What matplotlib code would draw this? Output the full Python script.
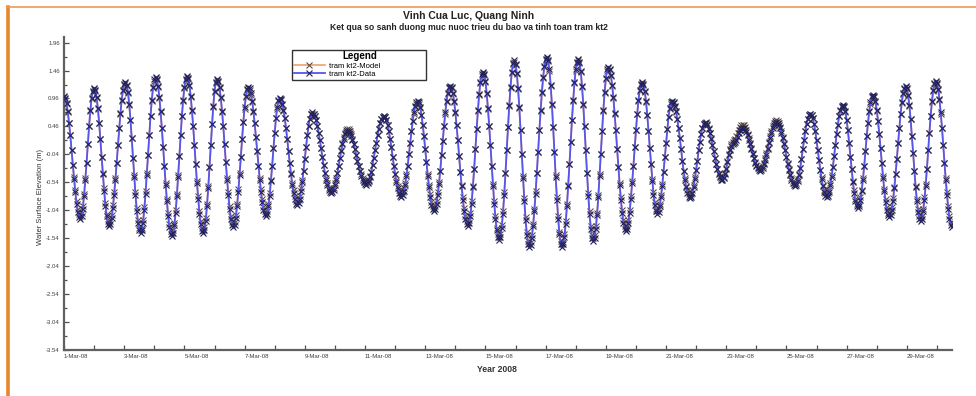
import datetime as dt
import matplotlib
matplotlib.use("Agg")
import matplotlib.pyplot as plt
import matplotlib.dates as mdates
from matplotlib.lines import Line2D
from matplotlib.ticker import FixedLocator, FormatStrFormatter, FuncFormatter

plt.rcParams['font.family'] = ['Liberation Sans', 'DejaVu Sans']

# ---- chu thich / nhan ----
title_main = "Vinh Cua Luc, Quang Ninh"
title_sub = "Ket qua so sanh duong muc nuoc trieu du bao va tinh toan tram kt2"
y_label = "Water Surface Elevation (m)"
x_label = "Year 2008"
legend_title = "Legend"
series_names = ["tram kt2-Model", "tram kt2-Data"]

start_time = dt.datetime(2008, 3, 1, 0, 0)   # gio dau tien, buoc 1 gio
span_days = 29.5
y_ticks = [1.96, 1.46, 0.96, 0.46, -0.04, -0.54, -1.04, -1.54, -2.04, -2.54, -3.04, -3.54]
y_top = 2.06

# ---- muc nuoc theo gio (m), doc tu hinh ----
model_level = [
    0.98,
    0.95, 0.86, 0.71, 0.53, 0.30, 0.04, -0.23, -0.45, -0.67, -0.87, -1.02, -1.11, -1.14,
    -1.09, -0.96, -0.74, -0.47, -0.19, 0.15, 0.46, 0.73, 0.95, 1.08, 1.13,
    1.09, 0.96, 0.77, 0.53, 0.23, -0.09, -0.37, -0.65, -0.91, -1.10, -1.23, -1.27,
    -1.23, -1.12, -0.95, -0.71, -0.46, -0.19, 0.13, 0.43, 0.68, 0.92, 1.09, 1.20, 1.24,
    1.19, 1.06, 0.84, 0.58, 0.25, -0.10, -0.41, -0.72, -1.00, -1.22, -1.35, -1.40,
    -1.35, -1.21, -0.99, -0.70, -0.38, -0.05, 0.31, 0.65, 0.92, 1.14, 1.28, 1.33,
    1.29, 1.17, 0.97, 0.71, 0.43, 0.10, -0.25, -0.55, -0.83, -1.09, -1.29, -1.41, -1.45,
    -1.40, -1.26, -1.03, -0.74, -0.41, -0.07, 0.30, 0.65, 0.92, 1.15, 1.29, 1.34,
    1.30, 1.18, 0.99, 0.73, 0.46, 0.12, -0.21, -0.52, -0.79, -1.05, -1.24, -1.36, -1.40,
    -1.34, -1.18, -0.92, -0.61, -0.27, 0.13, 0.50, 0.81, 1.07, 1.23, 1.29,
    1.25, 1.14, 0.96, 0.72, 0.46, 0.14, -0.17, -0.46, -0.72, -0.96, -1.14, -1.25, -1.29,
    -1.25, -1.12, -0.92, -0.66, -0.38, -0.09, 0.24, 0.54, 0.78, 0.98, 1.11, 1.15,
    1.12, 1.03, 0.90, 0.72, 0.52, 0.27, 0.02, -0.24, -0.46, -0.66, -0.84, -0.98, -1.06, -1.09,
    -1.05, -0.92, -0.73, -0.49, -0.24, 0.07, 0.35, 0.61, 0.78, 0.91, 0.95,
    0.93, 0.85, 0.74, 0.61, 0.43, 0.23, 0.02, -0.20, -0.37, -0.55, -0.68, -0.79, -0.87, -0.89,
    -0.86, -0.78, -0.65, -0.50, -0.33, -0.12, 0.10, 0.30, 0.47, 0.60, 0.68, 0.69,
    0.69, 0.65, 0.57, 0.47, 0.35, 0.21, 0.07, -0.09, -0.23, -0.37, -0.46, -0.56, -0.64, -0.66, -0.68,
    -0.66, -0.64, -0.56, -0.46, -0.37, -0.24, -0.10, 0.04, 0.16, 0.27, 0.35, 0.40, 0.42,
    0.41, 0.38, 0.32, 0.24, 0.15, 0.05, -0.05, -0.15, -0.25, -0.34, -0.40, -0.46, -0.51, -0.54, -0.55,
    -0.53, -0.49, -0.42, -0.35, -0.23, -0.10, 0.04, 0.17, 0.30, 0.42, 0.52, 0.59, 0.63, 0.65,
    0.63, 0.58, 0.49, 0.38, 0.24, 0.09, -0.08, -0.24, -0.39, -0.50, -0.61, -0.68, -0.73, -0.75,
    -0.72, -0.65, -0.56, -0.40, -0.25, -0.04, 0.16, 0.37, 0.55, 0.69, 0.80, 0.87, 0.90,
    0.87, 0.79, 0.67, 0.49, 0.29, 0.05, -0.18, -0.39, -0.59, -0.75, -0.89, -0.97, -1.00,
    -0.97, -0.87, -0.72, -0.54, -0.33, -0.06, 0.20, 0.47, 0.69, 0.89, 1.04, 1.14, 1.17,
    1.14, 1.04, 0.90, 0.70, 0.48, 0.22, -0.07, -0.35, -0.58, -0.80, -1.00, -1.15, -1.24, -1.27,
    -1.22, -1.09, -0.87, -0.60, -0.30, 0.06, 0.42, 0.73, 1.02, 1.24, 1.37, 1.42,
    1.38, 1.25, 1.04, 0.77, 0.47, 0.12, -0.25, -0.57, -0.87, -1.14, -1.35, -1.47, -1.52,
    -1.47, -1.30, -1.05, -0.72, -0.38, 0.04, 0.45, 0.82, 1.15, 1.41, 1.57, 1.62,
    1.56, 1.40, 1.13, 0.79, 0.40, -0.03, -0.43, -0.82, -1.16, -1.43, -1.59, -1.65,
    -1.61, -1.48, -1.28, -1.01, -0.69, -0.38, 0.01, 0.39, 0.73, 1.05, 1.32, 1.52, 1.65, 1.69,
    1.63, 1.46, 1.19, 0.84, 0.45, 0.01, -0.41, -0.80, -1.15, -1.42, -1.59, -1.65,
    -1.60, -1.46, -1.23, -0.92, -0.58, -0.22, 0.19, 0.58, 0.92, 1.23, 1.46, 1.60, 1.65,
    1.59, 1.43, 1.17, 0.84, 0.46, 0.04, -0.38, -0.73, -1.06, -1.32, -1.49, -1.54,
    -1.49, -1.33, -1.08, -0.76, -0.40, -0.03, 0.37, 0.73, 1.05, 1.30, 1.46, 1.51,
    1.47, 1.36, 1.19, 0.96, 0.68, 0.39, 0.06, -0.27, -0.55, -0.81, -1.04, -1.21, -1.32, -1.36,
    -1.32, -1.21, -1.03, -0.78, -0.52, -0.24, 0.09, 0.40, 0.68, 0.91, 1.09, 1.20, 1.24,
    1.20, 1.08, 0.90, 0.67, 0.38, 0.08, -0.22, -0.48, -0.71, -0.89, -1.01, -1.05,
    -1.02, -0.92, -0.76, -0.57, -0.35, -0.09, 0.17, 0.42, 0.63, 0.77, 0.87, 0.90,
    0.88, 0.81, 0.71, 0.59, 0.43, 0.25, 0.05, -0.15, -0.33, -0.46, -0.60, -0.68, -0.75, -0.77,
    -0.75, -0.68, -0.59, -0.45, -0.32, -0.15, 0.03, 0.19, 0.33, 0.44, 0.51, 0.53,
    0.54, 0.50, 0.44, 0.35, 0.25, 0.13, 0.02, -0.10, -0.21, -0.31, -0.38, -0.43, -0.47, -0.48,
    -0.45, -0.38, -0.28, -0.16, -0.04, 0.06, 0.14, 0.19, 0.22, 0.24, 0.28, 0.34, 0.40, 0.45, 0.48, 0.49,
    0.48, 0.45, 0.40, 0.33, 0.25, 0.16, 0.07, -0.02, -0.10, -0.17, -0.23, -0.27, -0.29, -0.30,
    -0.29, -0.25, -0.19, -0.11, -0.02, 0.08, 0.19, 0.29, 0.38, 0.46, 0.52, 0.56, 0.57,
    0.56, 0.52, 0.45, 0.37, 0.27, 0.16, 0.04, -0.08, -0.20, -0.31, -0.39, -0.46, -0.52, -0.56, -0.57,
    -0.55, -0.48, -0.40, -0.28, -0.12, 0.05, 0.21, 0.37, 0.50, 0.60, 0.67, 0.69,
    0.67, 0.61, 0.50, 0.37, 0.21, 0.03, -0.14, -0.32, -0.45, -0.58, -0.67, -0.73, -0.75,
    -0.73, -0.68, -0.56, -0.41, -0.27, -0.07, 0.12, 0.32, 0.49, 0.64, 0.74, 0.81, 0.83,
    0.80, 0.71, 0.58, 0.39, 0.16, -0.08, -0.31, -0.51, -0.68, -0.83, -0.92, -0.95,
    -0.92, -0.81, -0.67, -0.46, -0.25, 0.02, 0.28, 0.52, 0.71, 0.87, 0.98, 1.01,
    0.98, 0.89, 0.74, 0.56, 0.33, 0.07, -0.20, -0.43, -0.66, -0.84, -0.99, -1.08, -1.11,
    -1.07, -0.98, -0.82, -0.62, -0.40, -0.13, 0.16, 0.43, 0.68, 0.88, 1.04, 1.13, 1.17,
    1.13, 1.01, 0.82, 0.59, 0.29, -0.02, -0.33, -0.60, -0.83, -1.02, -1.14, -1.18,
    -1.14, -1.01, -0.81, -0.57, -0.30, 0.03, 0.35, 0.65, 0.89, 1.09, 1.22, 1.26,
    1.22, 1.11, 0.93, 0.69, 0.44, 0.13, -0.19, -0.47, -0.72, -0.96, -1.14, -1.25, -1.29,
]

data_level = [
    1.00,
    0.97, 0.88, 0.73, 0.53, 0.30, 0.04, -0.23, -0.48, -0.72, -0.92, -1.07, -1.16, -1.19,
    -1.14, -1.01, -0.79, -0.50, -0.19, 0.15, 0.46, 0.75, 0.97, 1.10, 1.15,
    1.11, 0.98, 0.79, 0.53, 0.23, -0.09, -0.40, -0.70, -0.96, -1.15, -1.28, -1.32,
    -1.28, -1.17, -1.00, -0.76, -0.49, -0.19, 0.13, 0.43, 0.70, 0.94, 1.11, 1.22, 1.26,
    1.21, 1.08, 0.86, 0.58, 0.25, -0.10, -0.44, -0.77, -1.05, -1.27, -1.40, -1.45,
    -1.40, -1.26, -1.04, -0.75, -0.41, -0.05, 0.31, 0.65, 0.94, 1.16, 1.30, 1.35,
    1.31, 1.19, 0.99, 0.73, 0.43, 0.10, -0.25, -0.58, -0.88, -1.14, -1.34, -1.46, -1.50,
    -1.45, -1.31, -1.08, -0.79, -0.44, -0.07, 0.30, 0.65, 0.94, 1.17, 1.31, 1.36,
    1.32, 1.20, 1.01, 0.75, 0.46, 0.12, -0.21, -0.55, -0.84, -1.10, -1.29, -1.41, -1.45,
    -1.39, -1.23, -0.97, -0.64, -0.27, 0.13, 0.50, 0.83, 1.09, 1.25, 1.31,
    1.27, 1.16, 0.98, 0.74, 0.46, 0.14, -0.17, -0.49, -0.77, -1.01, -1.19, -1.30, -1.34,
    -1.30, -1.17, -0.97, -0.71, -0.41, -0.09, 0.24, 0.54, 0.80, 1.00, 1.13, 1.17,
    1.14, 1.05, 0.92, 0.74, 0.52, 0.27, 0.02, -0.24, -0.49, -0.71, -0.89, -1.03, -1.11, -1.14,
    -1.10, -0.97, -0.78, -0.52, -0.24, 0.07, 0.35, 0.61, 0.80, 0.93, 0.97,
    0.95, 0.87, 0.76, 0.61, 0.43, 0.23, 0.02, -0.20, -0.40, -0.58, -0.73, -0.84, -0.92, -0.94,
    -0.91, -0.83, -0.70, -0.53, -0.33, -0.12, 0.10, 0.30, 0.47, 0.60, 0.68, 0.71,
    0.69, 0.65, 0.57, 0.47, 0.35, 0.21, 0.07, -0.09, -0.23, -0.37, -0.49, -0.59, -0.67, -0.71, -0.73,
    -0.71, -0.67, -0.59, -0.49, -0.37, -0.24, -0.11, 0.02, 0.14, 0.24, 0.32, 0.36, 0.38,
    0.37, 0.34, 0.29, 0.22, 0.14, 0.05, -0.05, -0.15, -0.25, -0.34, -0.42, -0.49, -0.54, -0.57, -0.58,
    -0.56, -0.52, -0.45, -0.35, -0.23, -0.10, 0.04, 0.17, 0.30, 0.42, 0.52, 0.59, 0.63, 0.65,
    0.63, 0.58, 0.49, 0.38, 0.24, 0.09, -0.08, -0.24, -0.39, -0.53, -0.64, -0.73, -0.78, -0.80,
    -0.77, -0.70, -0.59, -0.43, -0.25, -0.04, 0.16, 0.37, 0.55, 0.71, 0.82, 0.89, 0.92,
    0.89, 0.81, 0.67, 0.49, 0.29, 0.05, -0.18, -0.42, -0.62, -0.80, -0.94, -1.02, -1.05,
    -1.02, -0.92, -0.77, -0.57, -0.33, -0.06, 0.20, 0.47, 0.71, 0.91, 1.06, 1.16, 1.19,
    1.16, 1.06, 0.92, 0.72, 0.48, 0.22, -0.07, -0.35, -0.61, -0.85, -1.05, -1.20, -1.29, -1.32,
    -1.27, -1.14, -0.92, -0.63, -0.30, 0.06, 0.42, 0.75, 1.04, 1.26, 1.39, 1.44,
    1.40, 1.27, 1.06, 0.79, 0.47, 0.12, -0.25, -0.60, -0.92, -1.19, -1.40, -1.52, -1.57,
    -1.52, -1.35, -1.10, -0.77, -0.38, 0.04, 0.45, 0.84, 1.17, 1.43, 1.59, 1.64,
    1.58, 1.42, 1.15, 0.81, 0.40, -0.03, -0.46, -0.87, -1.21, -1.48, -1.64, -1.70,
    -1.66, -1.53, -1.33, -1.06, -0.74, -0.38, 0.01, 0.39, 0.75, 1.07, 1.34, 1.54, 1.67, 1.71,
    1.65, 1.48, 1.21, 0.86, 0.45, 0.01, -0.44, -0.85, -1.20, -1.47, -1.64, -1.70,
    -1.65, -1.51, -1.28, -0.97, -0.61, -0.22, 0.19, 0.58, 0.94, 1.25, 1.48, 1.62, 1.67,
    1.61, 1.45, 1.19, 0.86, 0.46, 0.04, -0.38, -0.78, -1.11, -1.37, -1.54, -1.59,
    -1.54, -1.38, -1.13, -0.81, -0.43, -0.03, 0.37, 0.75, 1.07, 1.32, 1.48, 1.53,
    1.49, 1.38, 1.21, 0.98, 0.70, 0.39, 0.06, -0.27, -0.58, -0.86, -1.09, -1.26, -1.37, -1.41,
    -1.37, -1.26, -1.08, -0.83, -0.55, -0.24, 0.09, 0.40, 0.68, 0.93, 1.11, 1.22, 1.26,
    1.22, 1.10, 0.92, 0.67, 0.38, 0.08, -0.22, -0.51, -0.76, -0.94, -1.06, -1.10,
    -1.07, -0.97, -0.81, -0.60, -0.35, -0.09, 0.17, 0.42, 0.63, 0.79, 0.89, 0.92,
    0.90, 0.83, 0.73, 0.59, 0.43, 0.25, 0.05, -0.15, -0.33, -0.49, -0.63, -0.73, -0.80, -0.82,
    -0.80, -0.73, -0.62, -0.48, -0.32, -0.15, 0.03, 0.19, 0.33, 0.44, 0.51, 0.53,
    0.52, 0.48, 0.42, 0.34, 0.24, 0.13, 0.02, -0.10, -0.21, -0.31, -0.39, -0.45, -0.49, -0.50,
    -0.47, -0.40, -0.30, -0.18, -0.06, 0.04, 0.11, 0.15, 0.17, 0.18, 0.21, 0.27, 0.34, 0.40, 0.43, 0.44,
    0.43, 0.40, 0.36, 0.30, 0.22, 0.14, 0.06, -0.03, -0.11, -0.19, -0.25, -0.29, -0.32, -0.33,
    -0.32, -0.28, -0.22, -0.14, -0.05, 0.05, 0.16, 0.26, 0.35, 0.43, 0.49, 0.53, 0.54,
    0.53, 0.49, 0.43, 0.35, 0.26, 0.15, 0.03, -0.09, -0.21, -0.32, -0.41, -0.49, -0.55, -0.59, -0.60,
    -0.58, -0.51, -0.41, -0.28, -0.12, 0.05, 0.21, 0.37, 0.50, 0.60, 0.67, 0.69,
    0.67, 0.61, 0.50, 0.37, 0.21, 0.03, -0.14, -0.32, -0.48, -0.61, -0.72, -0.78, -0.80,
    -0.78, -0.71, -0.59, -0.44, -0.27, -0.07, 0.12, 0.32, 0.49, 0.64, 0.76, 0.83, 0.85,
    0.82, 0.73, 0.58, 0.39, 0.16, -0.08, -0.31, -0.54, -0.73, -0.88, -0.97, -1.00,
    -0.97, -0.86, -0.70, -0.49, -0.25, 0.02, 0.28, 0.52, 0.73, 0.89, 1.00, 1.03,
    1.00, 0.91, 0.76, 0.56, 0.33, 0.07, -0.20, -0.46, -0.69, -0.89, -1.04, -1.13, -1.16,
    -1.12, -1.03, -0.87, -0.65, -0.40, -0.13, 0.16, 0.43, 0.68, 0.90, 1.06, 1.15, 1.19,
    1.15, 1.03, 0.84, 0.59, 0.29, -0.02, -0.33, -0.63, -0.88, -1.07, -1.19, -1.23,
    -1.19, -1.06, -0.86, -0.60, -0.30, 0.03, 0.35, 0.65, 0.91, 1.11, 1.24, 1.28,
    1.24, 1.13, 0.95, 0.71, 0.44, 0.13, -0.19, -0.50, -0.77, -1.01, -1.19, -1.30, -1.34,
]


def hourly_times(values):
    return mdates.date2num([start_time + dt.timedelta(hours=i) for i in range(len(values))])


fig = plt.figure(figsize=(9.76, 3.96), dpi=100)
fig.patch.set_facecolor('white')

# khung cam ben trai va ben tren (anh chup man hinh)
fig.add_artist(Line2D([8 / 976, 8 / 976], [0, 1 - 7 / 396], color='#E8862C', lw=2.6))
fig.add_artist(Line2D([7 / 976, 1], [1 - 7 / 396, 1 - 7 / 396], color='#EE9A50', lw=1.2))

ax = fig.add_axes([64 / 976, 46 / 396, 888 / 976, 313 / 396])

ax.plot(hourly_times(model_level), model_level, color='#F0A070', lw=1.2,
        marker='x', ms=4.8, mew=0.75, mec='#5a4838', label=series_names[0], zorder=2)
ax.plot(hourly_times(data_level), data_level, color='#5656EC', lw=1.3,
        marker='x', ms=4.8, mew=0.8, mec='#22225a', label=series_names[1], zorder=3)

t0 = mdates.date2num(start_time)
ax.set_xlim(t0, t0 + span_days)
ax.set_ylim(y_ticks[-1], y_top)

# truc
for s in ['top', 'right']:
    ax.spines[s].set_visible(False)
for s in ['left', 'bottom']:
    ax.spines[s].set_color('#606060')
    ax.spines[s].set_linewidth(1.6)

ax.yaxis.set_major_locator(FixedLocator(y_ticks))
ax.yaxis.set_major_formatter(FormatStrFormatter('%.2f'))
mids = [(a + b) / 2 for a, b in zip(y_ticks[:-1], y_ticks[1:])]
ax.yaxis.set_minor_locator(FixedLocator(mids))

ax.xaxis.set_major_locator(mdates.DayLocator(interval=1))


def day_label(x, pos):
    d = mdates.num2date(x)
    if d.day % 2 == 1:
        return f"{d.day}-{d.strftime('%b-%y')}"
    return ""


ax.xaxis.set_major_formatter(FuncFormatter(day_label))
ax.tick_params(axis='both', which='both', direction='in', color='#505050', width=0.9)
ax.tick_params(axis='both', which='major', length=3.5, labelsize=4.3, labelcolor='#404040', pad=3)
ax.tick_params(axis='y', which='minor', length=2.5)
for tk in ax.xaxis.get_major_ticks():
    tk.label1.set_horizontalalignment('left')

ax.set_ylabel(y_label, fontsize=5.5, color='#333333')
ax.yaxis.set_label_coords(-0.023, 0.49)
fig.text(497 / 976, 1 - 370 / 396, x_label, ha='center', va='center',
         fontsize=6.2, fontweight='bold', color='#333333')

fig.text(0.48, 1 - 16 / 396, title_main, ha='center', va='center',
         fontsize=7.5, fontweight='bold', color='#222222')
fig.text(0.48, 1 - 28 / 396, title_sub, ha='center', va='center',
         fontsize=6.2, fontweight='bold', color='#222222')

leg = ax.legend(title=legend_title, loc='upper left', mode='expand',
                bbox_to_anchor=(0.253, 0.972, 0.159, 0.0), fontsize=5.5, title_fontsize=7,
                frameon=True, fancybox=False, edgecolor='#333333', framealpha=1,
                handlelength=4, borderpad=0.2, labelspacing=0.15, handletextpad=0.6)
leg.get_title().set_fontweight('bold')
leg.get_frame().set_linewidth(1.0)

fig.savefig('out.png', dpi=100, facecolor='white')
